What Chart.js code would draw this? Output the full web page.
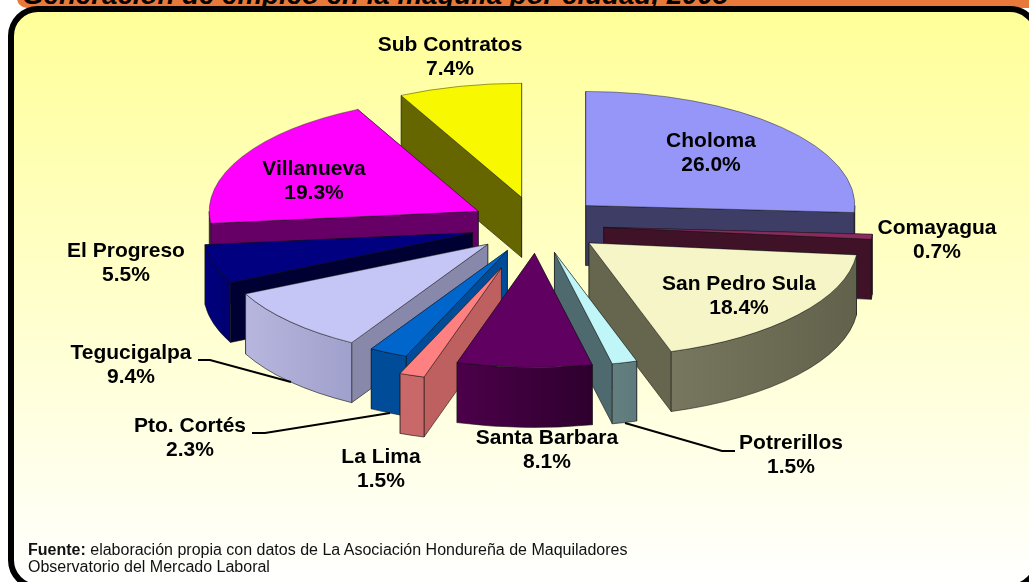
<!DOCTYPE html>
<html>
<head>
<meta charset="utf-8">
<script src="https://cdn.jsdelivr.net/npm/chart.js@4"></script>
<style>
    html, body { margin: 0; padding: 0; background: #fff; overflow: hidden; }
    #page { position: relative; width: 1029px; height: 582px; overflow: hidden; font-family: "Liberation Sans", Arial, sans-serif; }
    #strip { position: absolute; left: 17px; top: -30px; width: 1040px; height: 38px; background: #e8793a; border-radius: 10px; overflow: hidden; }
    #title { position: absolute; left: 5px; top: 9px; font: italic bold 27.7px "Liberation Sans", Arial, sans-serif; color: #000; white-space: nowrap; }
    #panel { position: absolute; left: 8px; top: 6px; width: 1032px; height: 584px; box-sizing: border-box; border: 6px solid #000; border-radius: 30px; background: linear-gradient(#ffff99, #ffffff); }
    #chart { position: absolute; left: 0; top: 0; }
    #source { position: absolute; left: 28px; top: 541px; font-size: 16px; line-height: 17px; color: #111; white-space: nowrap; }
</style>
</head>
<body>
<div id="page">
    <div id="strip"><div id="title">Generación de empleo en la maquila por ciudad, 2005</div></div>
    <div id="panel"></div>
    <canvas id="chart" width="1029" height="582"></canvas>
    <div id="source"><b>Fuente:</b> elaboración propia con datos de La Asociación Hondureña de Maquiladores<br>Observatorio del Mercado Laboral</div>
</div>
<script>
const categories = ['Choloma', 'Comayagua', 'San Pedro Sula', 'Potrerillos', 'Santa Barbara', 'La Lima', 'Pto. Cortés', 'Tegucigalpa', 'El Progreso', 'Villanueva', 'Sub Contratos'];
const shares = [26.0, 0.7, 18.4, 1.5, 8.1, 1.5, 2.3, 9.4, 5.5, 19.3, 7.4];

const topColors = ['#9696f8', '#8b2a5e', '#f6f5c8', '#c0f6f8', '#600060', '#ff8080', '#0066cc', '#c6c6f6', '#000080', '#ff00ff', '#f8f800'];
const sideColors = ['#3d3d66', '#3f1228', '#66664f', '#4f6a6e', '#3d003d', '#bf6060', '#004c99', '#8888aa', '#000033', '#660066', '#666600'];
const rimLeft = ['#3d3d66', '#3f1228', '#77775f', '#647f80', '#4c004a', '#c86868', '#004c99', '#b6b6de', '#000080', '#660066', '#666600'];
const rimRight = ['#3d3d66', '#3f1228', '#62624c', '#5f7a7c', '#2e002e', '#c86868', '#004c99', '#a0a0cc', '#000070', '#660066', '#666600'];

// back to front, this is the order the slices overlap in
const drawOrder = [10, 0, 9, 1, 8, 2, 7, 6, 5, 3, 4];

// how far each slice is pulled out, La Lima sits further out than the rest
const explode = [67, 67, 67, 67, 67, 107, 67, 67, 67, 67, 67];

// label centres, one per category
const labelX = [711, 937, 739, 791, 547, 381, 190, 131, 126, 314, 450];
const labelY = [141, 228, 284, 443, 438, 457, 426, 353, 251, 169, 45];

// leader lines for the small slices
const leaders = [
    [[198, 360], [210, 360], [291, 382]],
    [[252, 433], [265, 433], [390, 413]],
    [[625, 423], [722, 451], [735, 451]]
];

const pieX = 537;
const pieY = 225;
const squash = 0.424;
const depth = 60;
const pieRadius = 269;

function apex(arc, i) {
    const mid = (arc.startAngle + arc.endAngle) / 2;
    return {
        x: pieX + Math.cos(mid) * explode[i],
        y: pieY + squash * Math.sin(mid) * explode[i]
    };
}

function rimPoint(arc, i, angle) {
    const c = apex(arc, i);
    return {
        x: c.x + Math.cos(angle) * arc.outerRadius,
        y: c.y + squash * Math.sin(angle) * arc.outerRadius
    };
}

function drawRadialWall(ctx, arc, i, angle) {
    const c = apex(arc, i);
    const p = rimPoint(arc, i, angle);
    ctx.beginPath();
    ctx.moveTo(c.x, c.y);
    ctx.lineTo(p.x, p.y);
    ctx.lineTo(p.x, p.y + depth);
    ctx.lineTo(c.x, c.y + depth);
    ctx.closePath();
    ctx.fillStyle = sideColors[i];
    ctx.fill();
    ctx.stroke();
}

function drawRim(ctx, arc, i) {
    const a0 = Math.max(arc.startAngle, 0);
    const a1 = Math.min(arc.endAngle, Math.PI);
    if (a0 >= a1) return;
    const c = apex(arc, i);
    const r = arc.outerRadius;
    const left = rimPoint(arc, i, a1);
    const right = rimPoint(arc, i, a0);
    const grad = ctx.createLinearGradient(left.x, 0, right.x, 0);
    grad.addColorStop(0, rimLeft[i]);
    grad.addColorStop(1, rimRight[i]);
    ctx.beginPath();
    ctx.ellipse(c.x, c.y, r, r * squash, 0, a0, a1);
    ctx.ellipse(c.x, c.y + depth, r, r * squash, 0, a1, a0, true);
    ctx.closePath();
    ctx.fillStyle = grad;
    ctx.fill();
    ctx.stroke();
}

const pie3d = {
    id: 'pie3d',
    beforeDatasetDraw(chart, args) {
        const ctx = chart.ctx;
        const arcs = args.meta.data;
        drawOrder.forEach(i => {
            const arc = arcs[i];
            ctx.save();
            ctx.lineWidth = 0.8;
            ctx.strokeStyle = 'rgba(20,20,20,0.75)';
            // wall further back goes first
            const walls = [arc.startAngle, arc.endAngle].sort((a, b) => rimPoint(arc, i, a).y - rimPoint(arc, i, b).y);
            walls.forEach(a => drawRadialWall(ctx, arc, i, a));
            drawRim(ctx, arc, i);
            ctx.restore();

            // top face, the library's own arc squashed and moved out
            const c = apex(arc, i);
            ctx.save();
            ctx.translate(c.x, c.y);
            ctx.scale(1, squash);
            ctx.translate(-arc.x, -arc.y);
            arc.draw(ctx);
            ctx.restore();
        });
        return false;
    },
    afterDatasetsDraw(chart) {
        const ctx = chart.ctx;
        ctx.save();
        ctx.strokeStyle = '#000';
        ctx.lineWidth = 2;
        leaders.forEach(line => {
            ctx.beginPath();
            line.forEach((p, n) => n ? ctx.lineTo(p[0], p[1]) : ctx.moveTo(p[0], p[1]));
            ctx.stroke();
        });
        ctx.fillStyle = '#000';
        ctx.font = 'bold 21px "Liberation Sans", Arial, sans-serif';
        ctx.textAlign = 'center';
        ctx.textBaseline = 'middle';
        categories.forEach((name, i) => {
            ctx.fillText(name, labelX[i], labelY[i]);
            ctx.fillText(shares[i].toFixed(1) + '%', labelX[i], labelY[i] + 24);
        });
        ctx.restore();
    }
};

new Chart(document.getElementById('chart').getContext('2d'), {
    type: 'pie',
    plugins: [pie3d],
    data: {
        labels: categories,
        datasets: [{
            data: shares,
            backgroundColor: topColors,
            borderColor: 'rgba(20,20,20,0.75)',
            borderWidth: 0.8,
            radius: pieRadius
        }]
    },
    options: {
        responsive: false,
        animation: false,
        events: [],
        plugins: {
            legend: { display: false },
            tooltip: { enabled: false }
        }
    }
});
</script>
</body>
</html>
